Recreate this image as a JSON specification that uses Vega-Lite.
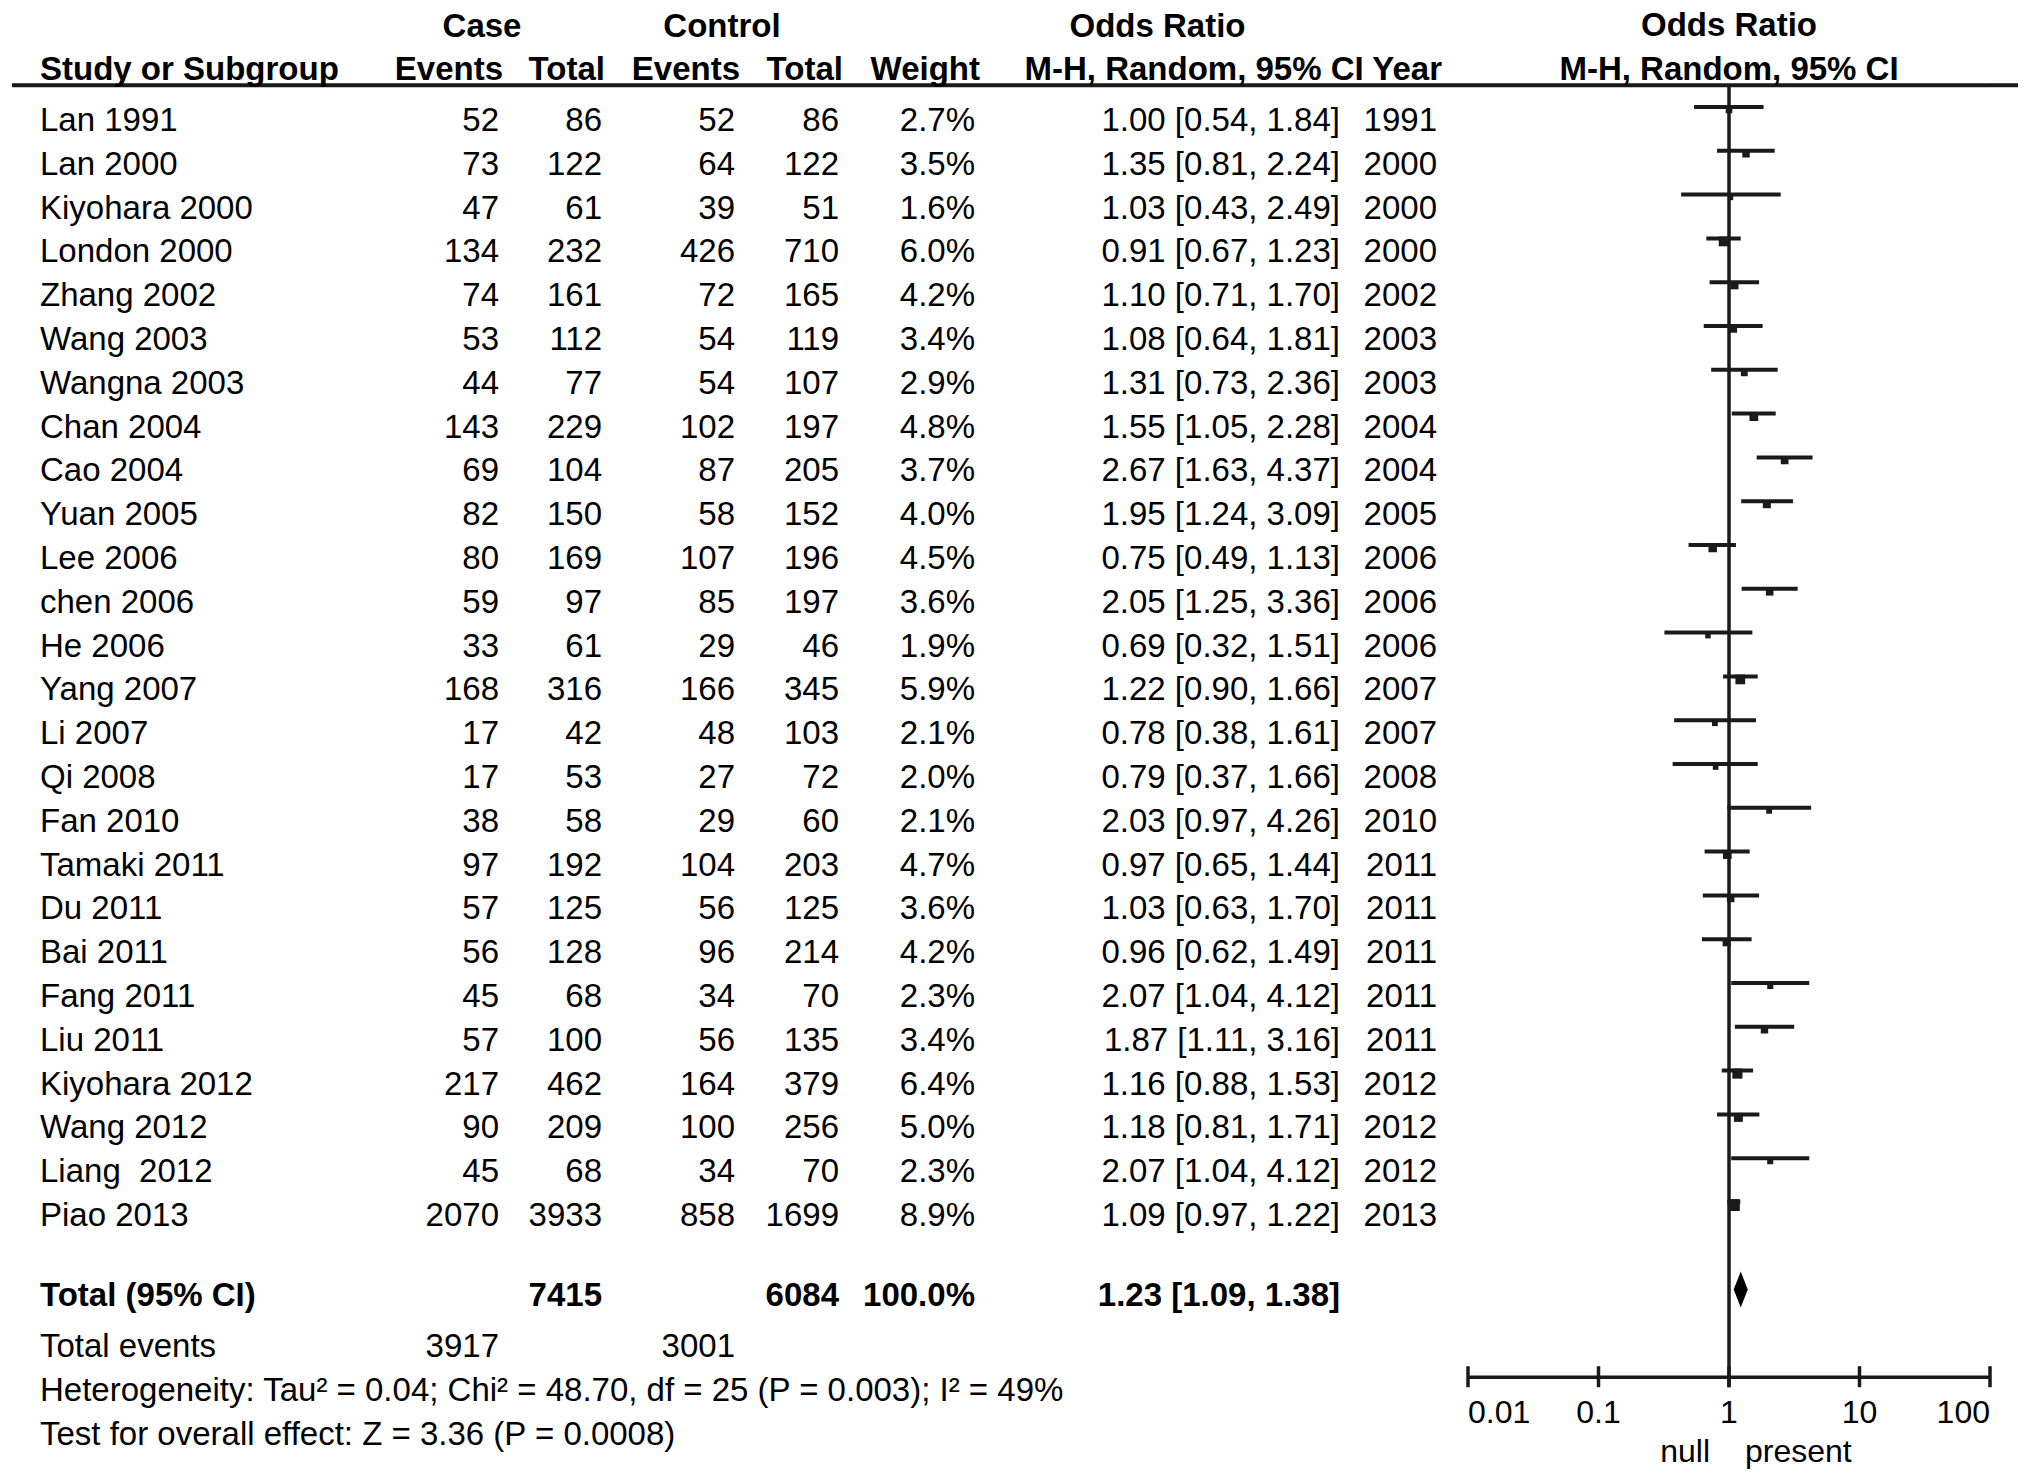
{
"$schema": "https://vega.github.io/schema/vega-lite/v6.json",
"padding": {"left": 10, "right": 15, "top": 0, "bottom": 0},
"spacing": 0,
"bounds": "flush",
"config": {"view": {"stroke": null}, "text": {"font": "Liberation Sans", "fontSize": 33, "baseline": "alphabetic", "color": "#000"}, "rule": {"color": "#1a1a1a"}},
"datasets": {
"studies": [
{"r":"Lan 1991","ce":52,"ct":86,"ke":52,"kt":86,"w":0.027,"or":1.00,"lo":0.54,"hi":1.84,"ci":"1.00 [0.54, 1.84]","yr":1991},
{"r":"Lan 2000","ce":73,"ct":122,"ke":64,"kt":122,"w":0.035,"or":1.35,"lo":0.81,"hi":2.24,"ci":"1.35 [0.81, 2.24]","yr":2000},
{"r":"Kiyohara 2000","ce":47,"ct":61,"ke":39,"kt":51,"w":0.016,"or":1.03,"lo":0.43,"hi":2.49,"ci":"1.03 [0.43, 2.49]","yr":2000},
{"r":"London 2000","ce":134,"ct":232,"ke":426,"kt":710,"w":0.060,"or":0.91,"lo":0.67,"hi":1.23,"ci":"0.91 [0.67, 1.23]","yr":2000},
{"r":"Zhang 2002","ce":74,"ct":161,"ke":72,"kt":165,"w":0.042,"or":1.10,"lo":0.71,"hi":1.70,"ci":"1.10 [0.71, 1.70]","yr":2002},
{"r":"Wang 2003","ce":53,"ct":112,"ke":54,"kt":119,"w":0.034,"or":1.08,"lo":0.64,"hi":1.81,"ci":"1.08 [0.64, 1.81]","yr":2003},
{"r":"Wangna 2003","ce":44,"ct":77,"ke":54,"kt":107,"w":0.029,"or":1.31,"lo":0.73,"hi":2.36,"ci":"1.31 [0.73, 2.36]","yr":2003},
{"r":"Chan 2004","ce":143,"ct":229,"ke":102,"kt":197,"w":0.048,"or":1.55,"lo":1.05,"hi":2.28,"ci":"1.55 [1.05, 2.28]","yr":2004},
{"r":"Cao 2004","ce":69,"ct":104,"ke":87,"kt":205,"w":0.037,"or":2.67,"lo":1.63,"hi":4.37,"ci":"2.67 [1.63, 4.37]","yr":2004},
{"r":"Yuan 2005","ce":82,"ct":150,"ke":58,"kt":152,"w":0.040,"or":1.95,"lo":1.24,"hi":3.09,"ci":"1.95 [1.24, 3.09]","yr":2005},
{"r":"Lee 2006","ce":80,"ct":169,"ke":107,"kt":196,"w":0.045,"or":0.75,"lo":0.49,"hi":1.13,"ci":"0.75 [0.49, 1.13]","yr":2006},
{"r":"chen 2006","ce":59,"ct":97,"ke":85,"kt":197,"w":0.036,"or":2.05,"lo":1.25,"hi":3.36,"ci":"2.05 [1.25, 3.36]","yr":2006},
{"r":"He 2006","ce":33,"ct":61,"ke":29,"kt":46,"w":0.019,"or":0.69,"lo":0.32,"hi":1.51,"ci":"0.69 [0.32, 1.51]","yr":2006},
{"r":"Yang 2007","ce":168,"ct":316,"ke":166,"kt":345,"w":0.059,"or":1.22,"lo":0.90,"hi":1.66,"ci":"1.22 [0.90, 1.66]","yr":2007},
{"r":"Li 2007","ce":17,"ct":42,"ke":48,"kt":103,"w":0.021,"or":0.78,"lo":0.38,"hi":1.61,"ci":"0.78 [0.38, 1.61]","yr":2007},
{"r":"Qi 2008","ce":17,"ct":53,"ke":27,"kt":72,"w":0.020,"or":0.79,"lo":0.37,"hi":1.66,"ci":"0.79 [0.37, 1.66]","yr":2008},
{"r":"Fan 2010","ce":38,"ct":58,"ke":29,"kt":60,"w":0.021,"or":2.03,"lo":0.97,"hi":4.26,"ci":"2.03 [0.97, 4.26]","yr":2010},
{"r":"Tamaki 2011","ce":97,"ct":192,"ke":104,"kt":203,"w":0.047,"or":0.97,"lo":0.65,"hi":1.44,"ci":"0.97 [0.65, 1.44]","yr":2011},
{"r":"Du 2011","ce":57,"ct":125,"ke":56,"kt":125,"w":0.036,"or":1.03,"lo":0.63,"hi":1.70,"ci":"1.03 [0.63, 1.70]","yr":2011},
{"r":"Bai 2011","ce":56,"ct":128,"ke":96,"kt":214,"w":0.042,"or":0.96,"lo":0.62,"hi":1.49,"ci":"0.96 [0.62, 1.49]","yr":2011},
{"r":"Fang 2011","ce":45,"ct":68,"ke":34,"kt":70,"w":0.023,"or":2.07,"lo":1.04,"hi":4.12,"ci":"2.07 [1.04, 4.12]","yr":2011},
{"r":"Liu 2011","ce":57,"ct":100,"ke":56,"kt":135,"w":0.034,"or":1.87,"lo":1.11,"hi":3.16,"ci":"1.87 [1.11, 3.16]","yr":2011},
{"r":"Kiyohara 2012","ce":217,"ct":462,"ke":164,"kt":379,"w":0.064,"or":1.16,"lo":0.88,"hi":1.53,"ci":"1.16 [0.88, 1.53]","yr":2012},
{"r":"Wang 2012","ce":90,"ct":209,"ke":100,"kt":256,"w":0.050,"or":1.18,"lo":0.81,"hi":1.71,"ci":"1.18 [0.81, 1.71]","yr":2012},
{"r":"Liang\u00a0 2012","ce":45,"ct":68,"ke":34,"kt":70,"w":0.023,"or":2.07,"lo":1.04,"hi":4.12,"ci":"2.07 [1.04, 4.12]","yr":2012},
{"r":"Piao 2013","ce":2070,"ct":3933,"ke":858,"kt":1699,"w":0.089,"or":1.09,"lo":0.97,"hi":1.22,"ci":"1.09 [0.97, 1.22]","yr":2013}
],
"total": [{"r":"Total (95% CI)","ct":7415,"kt":6084,"w":1.0,"or":1.23,"lo":1.09,"hi":1.38,"ci":"1.23 [1.09, 1.38]"}],
"events": [{"r":"Total events","ce":3917,"ke":3001}],
"notes": [{"r":"Heterogeneity","label":"Heterogeneity: Tau² = 0.04; Chi² = 48.70, df = 25 (P = 0.003); I² = 49%"},{"r":"Test for overall effect","label":"Test for overall effect: Z = 3.36 (P = 0.0008)"}],
"ticks": [{"v":0.01,"lab":"0.01"},{"v":0.1,"lab":"0.1"},{"v":1,"lab":"1"},{"v":10,"lab":"10"},{"v":100,"lab":"100"}]
},
"hconcat": [
{"width": 487, "height": 1482,
"encoding": {"y": {"field":"r","type":"nominal","sort":null,"axis":null,"scale":{"type":"point","domain":["hdr1","hdr2","Lan 1991","Lan 2000","Kiyohara 2000","London 2000","Zhang 2002","Wang 2003","Wangna 2003","Chan 2004","Cao 2004","Yuan 2005","Lee 2006","chen 2006","He 2006","Yang 2007","Li 2007","Qi 2008","Fan 2010","Tamaki 2011","Du 2011","Bai 2011","Fang 2011","Liu 2011","Kiyohara 2012","Wang 2012","Liang\u00a0 2012","Piao 2013","gap","Total (95% CI)","Total events","Heterogeneity","Test for overall effect"],"padding":0.918,"align":0.54,"round":false}}},
"layer": [
{"data":{"values":[{}]},"mark":{"type":"rule","strokeWidth":4,"yOffset":-2},"encoding":{"y":{"datum":"hdr2","type":"nominal","axis":null}}},
{"data":{"name":"studies"},"mark":{"type":"text","align":"left","dx":28},"encoding":{"x":{"value":0},"text":{"field":"r","type":"nominal"}}},
{"data":{"name":"studies"},"mark":{"type":"text","align":"right"},"encoding":{"x":{"value":"width"},"text":{"field":"ce","type":"nominal"}}},
{"data":{"values":[{"r":"hdr2","t":"Study or Subgroup"}]},"mark":{"type":"text","align":"left","dx":28,"dy":-7,"fontWeight":"bold"},"encoding":{"x":{"value":0},"text":{"field":"t","type":"nominal"}}},
{"data":{"values":[{"r":"hdr2","t":"Events"}]},"mark":{"type":"text","align":"right","dx":4,"dy":-7,"fontWeight":"bold"},"encoding":{"x":{"value":"width"},"text":{"field":"t","type":"nominal"}}},
{"data":{"name":"total"},"mark":{"type":"text","align":"left","dx":28,"dy":-8,"fontWeight":"bold"},"encoding":{"x":{"value":0},"text":{"field":"r","type":"nominal"}}},
{"data":{"name":"events"},"mark":{"type":"text","align":"left","dx":28},"encoding":{"x":{"value":0},"text":{"field":"r","type":"nominal"}}},
{"data":{"name":"events"},"mark":{"type":"text","align":"right"},"encoding":{"x":{"value":"width"},"text":{"field":"ce","type":"nominal"}}},
{"data":{"name":"notes"},"mark":{"type":"text","align":"left","dx":28},"encoding":{"x":{"value":0},"text":{"field":"label","type":"nominal"}}}
]},
{"width": 103, "height": 1482,
"encoding": {"y": {"field":"r","type":"nominal","sort":null,"axis":null,"scale":{"type":"point","domain":["hdr1","hdr2","Lan 1991","Lan 2000","Kiyohara 2000","London 2000","Zhang 2002","Wang 2003","Wangna 2003","Chan 2004","Cao 2004","Yuan 2005","Lee 2006","chen 2006","He 2006","Yang 2007","Li 2007","Qi 2008","Fan 2010","Tamaki 2011","Du 2011","Bai 2011","Fang 2011","Liu 2011","Kiyohara 2012","Wang 2012","Liang\u00a0 2012","Piao 2013","gap","Total (95% CI)","Total events","Heterogeneity","Test for overall effect"],"padding":0.918,"align":0.54,"round":false}}},
"layer": [
{"data":{"values":[{}]},"mark":{"type":"rule","strokeWidth":4,"yOffset":-2},"encoding":{"y":{"datum":"hdr2","type":"nominal","axis":null}}},
{"data":{"name":"studies"},"mark":{"type":"text","align":"right"},"encoding":{"x":{"value":"width"},"text":{"field":"ct","type":"nominal"}}},
{"data":{"values":[{"r":"hdr2","t":"Total"}]},"mark":{"type":"text","align":"right","dx":3,"dy":-7,"fontWeight":"bold"},"encoding":{"x":{"value":"width"},"text":{"field":"t","type":"nominal"}}},
{"data":{"values":[{"r":"hdr1","t":"Case"}]},"mark":{"type":"text","align":"center","dx":-17,"dy":-6,"fontWeight":"bold"},"encoding":{"x":{"value":0},"text":{"field":"t","type":"nominal"}}},
{"data":{"name":"total"},"mark":{"type":"text","align":"right","dy":-8,"fontWeight":"bold"},"encoding":{"x":{"value":"width"},"text":{"field":"ct","type":"nominal"}}}
]},
{"width": 133, "height": 1482,
"encoding": {"y": {"field":"r","type":"nominal","sort":null,"axis":null,"scale":{"type":"point","domain":["hdr1","hdr2","Lan 1991","Lan 2000","Kiyohara 2000","London 2000","Zhang 2002","Wang 2003","Wangna 2003","Chan 2004","Cao 2004","Yuan 2005","Lee 2006","chen 2006","He 2006","Yang 2007","Li 2007","Qi 2008","Fan 2010","Tamaki 2011","Du 2011","Bai 2011","Fang 2011","Liu 2011","Kiyohara 2012","Wang 2012","Liang\u00a0 2012","Piao 2013","gap","Total (95% CI)","Total events","Heterogeneity","Test for overall effect"],"padding":0.918,"align":0.54,"round":false}}},
"layer": [
{"data":{"values":[{}]},"mark":{"type":"rule","strokeWidth":4,"yOffset":-2},"encoding":{"y":{"datum":"hdr2","type":"nominal","axis":null}}},
{"data":{"name":"studies"},"mark":{"type":"text","align":"right"},"encoding":{"x":{"value":"width"},"text":{"field":"ke","type":"nominal"}}},
{"data":{"values":[{"r":"hdr2","t":"Events"}]},"mark":{"type":"text","align":"right","dx":5,"dy":-7,"fontWeight":"bold"},"encoding":{"x":{"value":"width"},"text":{"field":"t","type":"nominal"}}},
{"data":{"name":"events"},"mark":{"type":"text","align":"right"},"encoding":{"x":{"value":"width"},"text":{"field":"ke","type":"nominal"}}}
]},
{"width": 104, "height": 1482,
"encoding": {"y": {"field":"r","type":"nominal","sort":null,"axis":null,"scale":{"type":"point","domain":["hdr1","hdr2","Lan 1991","Lan 2000","Kiyohara 2000","London 2000","Zhang 2002","Wang 2003","Wangna 2003","Chan 2004","Cao 2004","Yuan 2005","Lee 2006","chen 2006","He 2006","Yang 2007","Li 2007","Qi 2008","Fan 2010","Tamaki 2011","Du 2011","Bai 2011","Fang 2011","Liu 2011","Kiyohara 2012","Wang 2012","Liang\u00a0 2012","Piao 2013","gap","Total (95% CI)","Total events","Heterogeneity","Test for overall effect"],"padding":0.918,"align":0.54,"round":false}}},
"layer": [
{"data":{"values":[{}]},"mark":{"type":"rule","strokeWidth":4,"yOffset":-2},"encoding":{"y":{"datum":"hdr2","type":"nominal","axis":null}}},
{"data":{"name":"studies"},"mark":{"type":"text","align":"right"},"encoding":{"x":{"value":"width"},"text":{"field":"kt","type":"nominal"}}},
{"data":{"values":[{"r":"hdr2","t":"Total"}]},"mark":{"type":"text","align":"right","dx":4,"dy":-7,"fontWeight":"bold"},"encoding":{"x":{"value":"width"},"text":{"field":"t","type":"nominal"}}},
{"data":{"values":[{"r":"hdr1","t":"Control"}]},"mark":{"type":"text","align":"center","dx":-13,"dy":-6,"fontWeight":"bold"},"encoding":{"x":{"value":0},"text":{"field":"t","type":"nominal"}}},
{"data":{"name":"total"},"mark":{"type":"text","align":"right","dy":-8,"fontWeight":"bold"},"encoding":{"x":{"value":"width"},"text":{"field":"kt","type":"nominal"}}}
]},
{"width": 136, "height": 1482,
"encoding": {"y": {"field":"r","type":"nominal","sort":null,"axis":null,"scale":{"type":"point","domain":["hdr1","hdr2","Lan 1991","Lan 2000","Kiyohara 2000","London 2000","Zhang 2002","Wang 2003","Wangna 2003","Chan 2004","Cao 2004","Yuan 2005","Lee 2006","chen 2006","He 2006","Yang 2007","Li 2007","Qi 2008","Fan 2010","Tamaki 2011","Du 2011","Bai 2011","Fang 2011","Liu 2011","Kiyohara 2012","Wang 2012","Liang\u00a0 2012","Piao 2013","gap","Total (95% CI)","Total events","Heterogeneity","Test for overall effect"],"padding":0.918,"align":0.54,"round":false}}},
"layer": [
{"data":{"values":[{}]},"mark":{"type":"rule","strokeWidth":4,"yOffset":-2},"encoding":{"y":{"datum":"hdr2","type":"nominal","axis":null}}},
{"data":{"name":"studies"},"mark":{"type":"text","align":"right"},"encoding":{"x":{"value":"width"},"text":{"field":"w","type":"quantitative","format":".1%"}}},
{"data":{"values":[{"r":"hdr2","t":"Weight"}]},"mark":{"type":"text","align":"right","dx":5,"dy":-7,"fontWeight":"bold"},"encoding":{"x":{"value":"width"},"text":{"field":"t","type":"nominal"}}},
{"data":{"name":"total"},"mark":{"type":"text","align":"right","dy":-8,"fontWeight":"bold"},"encoding":{"x":{"value":"width"},"text":{"field":"w","type":"quantitative","format":".1%"}}}
]},
{"width": 365, "height": 1482,
"encoding": {"y": {"field":"r","type":"nominal","sort":null,"axis":null,"scale":{"type":"point","domain":["hdr1","hdr2","Lan 1991","Lan 2000","Kiyohara 2000","London 2000","Zhang 2002","Wang 2003","Wangna 2003","Chan 2004","Cao 2004","Yuan 2005","Lee 2006","chen 2006","He 2006","Yang 2007","Li 2007","Qi 2008","Fan 2010","Tamaki 2011","Du 2011","Bai 2011","Fang 2011","Liu 2011","Kiyohara 2012","Wang 2012","Liang\u00a0 2012","Piao 2013","gap","Total (95% CI)","Total events","Heterogeneity","Test for overall effect"],"padding":0.918,"align":0.54,"round":false}}},
"layer": [
{"data":{"values":[{}]},"mark":{"type":"rule","strokeWidth":4,"yOffset":-2},"encoding":{"y":{"datum":"hdr2","type":"nominal","axis":null}}},
{"data":{"name":"studies"},"mark":{"type":"text","align":"right"},"encoding":{"x":{"value":"width"},"text":{"field":"ci","type":"nominal"}}},
{"data":{"values":[{"r":"hdr1","t":"Odds Ratio"}]},"mark":{"type":"text","align":"center","dy":-6,"fontWeight":"bold"},"encoding":{"text":{"field":"t","type":"nominal"}}},
{"data":{"name":"total"},"mark":{"type":"text","align":"right","dy":-8,"fontWeight":"bold"},"encoding":{"x":{"value":"width"},"text":{"field":"ci","type":"nominal"}}}
]},
{"width": 128, "height": 1482,
"encoding": {"y": {"field":"r","type":"nominal","sort":null,"axis":null,"scale":{"type":"point","domain":["hdr1","hdr2","Lan 1991","Lan 2000","Kiyohara 2000","London 2000","Zhang 2002","Wang 2003","Wangna 2003","Chan 2004","Cao 2004","Yuan 2005","Lee 2006","chen 2006","He 2006","Yang 2007","Li 2007","Qi 2008","Fan 2010","Tamaki 2011","Du 2011","Bai 2011","Fang 2011","Liu 2011","Kiyohara 2012","Wang 2012","Liang\u00a0 2012","Piao 2013","gap","Total (95% CI)","Total events","Heterogeneity","Test for overall effect"],"padding":0.918,"align":0.54,"round":false}}},
"layer": [
{"data":{"values":[{}]},"mark":{"type":"rule","strokeWidth":4,"yOffset":-2},"encoding":{"y":{"datum":"hdr2","type":"nominal","axis":null}}},
{"data":{"name":"studies"},"mark":{"type":"text","align":"right","dx":-31},"encoding":{"x":{"value":"width"},"text":{"field":"yr","type":"nominal"}}},
{"data":{"values":[{"r":"hdr2","t":"M-H, Random, 95% CI Year"}]},"mark":{"type":"text","align":"right","dx":-26,"dy":-7,"fontWeight":"bold"},"encoding":{"x":{"value":"width"},"text":{"field":"t","type":"nominal"}}}
]},
{"width": 522, "height": 1482,
"encoding": {"y": {"field":"r","type":"nominal","sort":null,"axis":null,"scale":{"type":"point","domain":["hdr1","hdr2","Lan 1991","Lan 2000","Kiyohara 2000","London 2000","Zhang 2002","Wang 2003","Wangna 2003","Chan 2004","Cao 2004","Yuan 2005","Lee 2006","chen 2006","He 2006","Yang 2007","Li 2007","Qi 2008","Fan 2010","Tamaki 2011","Du 2011","Bai 2011","Fang 2011","Liu 2011","Kiyohara 2012","Wang 2012","Liang\u00a0 2012","Piao 2013","gap","Total (95% CI)","Total events","Heterogeneity","Test for overall effect"],"padding":0.918,"align":0.54,"round":false}}},
"layer": [
{"data":{"values":[{}]},"mark":{"type":"rule","strokeWidth":4,"yOffset":-2},"encoding":{"y":{"datum":"hdr2","type":"nominal","axis":null}}},
{"data":{"values":[{"r":"hdr1","t":"Odds Ratio"},{"r":"hdr2","t":"M-H, Random, 95% CI"}]},"mark":{"type":"text","align":"center","dy":-7,"fontWeight":"bold"},"encoding":{"text":{"field":"t","type":"nominal"}}},
{"data":{"values":[{}]},"mark":{"type":"rule","strokeWidth":3.5,"yOffset":-2,"y2Offset":-14},"encoding":{"x":{"datum":1,"type":"quantitative","scale":{"type":"log","domain":[0.01,100]},"axis":null},"y":{"datum":"hdr2","type":"nominal","axis":null},"y2":{"datum":"Heterogeneity"}}},
{"data":{"name":"studies"},"mark":{"type":"rule","strokeWidth":4,"yOffset":-24},"encoding":{"x":{"field":"lo","type":"quantitative","scale":{"type":"log","domain":[0.01,100]},"axis":null},"x2":{"field":"hi"}}},
{"data":{"name":"studies"},"mark":{"type":"point","shape":"square","filled":true,"opacity":1,"color":"#1a1a1a","yOffset":-21},"encoding":{"x":{"field":"or","type":"quantitative","scale":{"type":"log","domain":[0.01,100]},"axis":null},"size":{"field":"w","type":"quantitative","scale":{"domain":[0,0.1],"range":[0,160]},"legend":null}}},
{"data":{"name":"total"},"mark":{"type":"point","shape":"M-0.39,0L0,-1L0.39,0L0,1Z","filled":true,"opacity":1,"color":"#000","size":1296,"yOffset":-24},"encoding":{"x":{"field":"or","type":"quantitative","scale":{"type":"log","domain":[0.01,100]},"axis":null}}},
{"data":{"values":[{}]},"mark":{"type":"rule","strokeWidth":3.5,"yOffset":-24},"encoding":{"x":{"datum":0.01,"type":"quantitative","scale":{"type":"log","domain":[0.01,100]},"axis":null},"x2":{"datum":100},"y":{"datum":"Heterogeneity","type":"nominal","axis":null}}},
{"data":{"name":"ticks"},"mark":{"type":"rule","strokeWidth":3.5,"yOffset":-35,"y2Offset":-14},"encoding":{"x":{"field":"v","type":"quantitative","scale":{"type":"log","domain":[0.01,100]},"axis":null},"y":{"datum":"Heterogeneity","type":"nominal","axis":null},"y2":{"datum":"Heterogeneity"}}},
{"data":{"name":"ticks"},"mark":{"type":"text","dy":22,"fontSize":32,"align":{"expr":"datum.v < 0.05 ? 'left' : (datum.v > 50 ? 'right' : 'center')"}},"encoding":{"x":{"field":"v","type":"quantitative","scale":{"type":"log","domain":[0.01,100]},"axis":null},"y":{"datum":"Heterogeneity","type":"nominal","axis":null},"text":{"field":"lab","type":"nominal"}}},
{"data":{"values":[{"t":"null"}]},"mark":{"type":"text","align":"right","dx":-19,"dy":17,"fontSize":32},"encoding":{"x":{"datum":1,"type":"quantitative","scale":{"type":"log","domain":[0.01,100]},"axis":null},"y":{"datum":"Test for overall effect","type":"nominal","axis":null},"text":{"field":"t","type":"nominal"}}},
{"data":{"values":[{"t":"present"}]},"mark":{"type":"text","align":"left","dx":16,"dy":17,"fontSize":32},"encoding":{"x":{"datum":1,"type":"quantitative","scale":{"type":"log","domain":[0.01,100]},"axis":null},"y":{"datum":"Test for overall effect","type":"nominal","axis":null},"text":{"field":"t","type":"nominal"}}}
]},
{"width": 28, "height": 1482,
"encoding": {"y": {"field":"r","type":"nominal","sort":null,"axis":null,"scale":{"type":"point","domain":["hdr1","hdr2","Lan 1991","Lan 2000","Kiyohara 2000","London 2000","Zhang 2002","Wang 2003","Wangna 2003","Chan 2004","Cao 2004","Yuan 2005","Lee 2006","chen 2006","He 2006","Yang 2007","Li 2007","Qi 2008","Fan 2010","Tamaki 2011","Du 2011","Bai 2011","Fang 2011","Liu 2011","Kiyohara 2012","Wang 2012","Liang\u00a0 2012","Piao 2013","gap","Total (95% CI)","Total events","Heterogeneity","Test for overall effect"],"padding":0.918,"align":0.54,"round":false}}},
"layer": [
{"data":{"values":[{}]},"mark":{"type":"rule","strokeWidth":4,"yOffset":-2},"encoding":{"y":{"datum":"hdr2","type":"nominal","axis":null}}}
]}
]
}
